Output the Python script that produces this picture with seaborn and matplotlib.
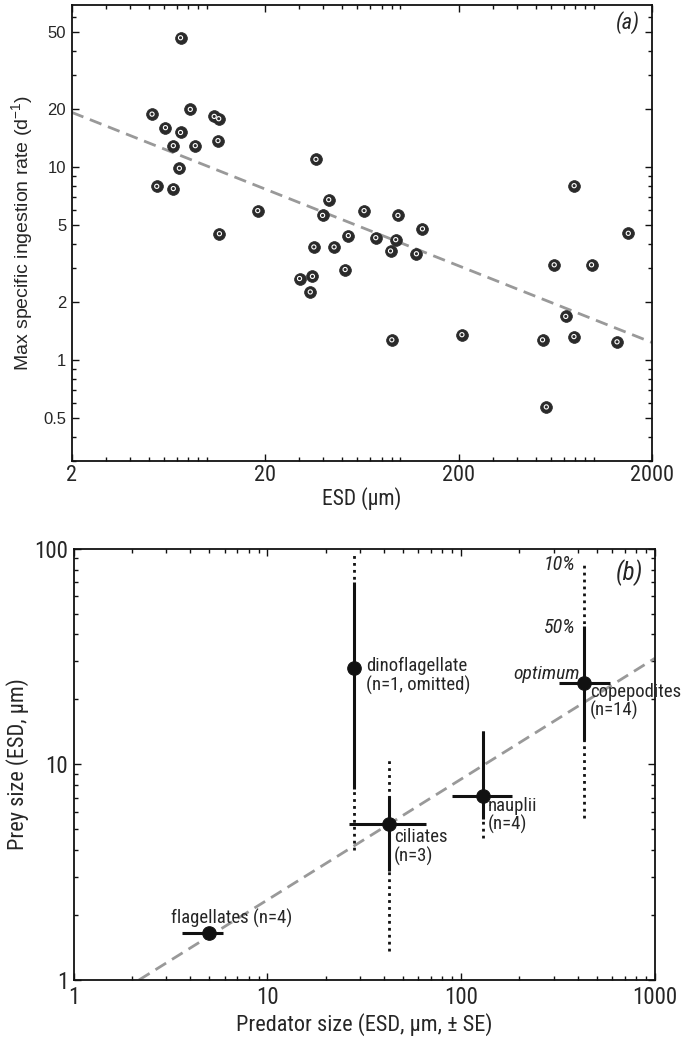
import matplotlib
matplotlib.use("Agg")
import matplotlib.pyplot as plt
import matplotlib.ticker as mticker
import numpy as np
import pandas as pd
import seaborn as sns

# --------------------------------------------------------------------------- #
# (a) max specific ingestion rate vs ESD
# --------------------------------------------------------------------------- #
esd_um = [
    7.3, 5.2, 8.2, 6.1, 7.3, 10.9, 11.5, 6.7, 8.7, 11.4, 7.2, 5.5, 6.7,
    18.3, 11.6, 36.6, 42.6, 39.6, 64.9, 97.1, 130, 53.8, 74.6, 94.6, 88.9,
    121, 35.7, 45.4, 51.8, 30.1, 35.1, 34.2, 90.3, 208, 791, 1507, 624,
    973, 716, 543, 789, 1318, 568,
]
imax_per_day = [
    46.8, 18.8, 19.9, 16.0, 15.1, 18.3, 17.8, 12.9, 12.9, 13.7, 9.85, 7.94, 7.73,
    5.94, 4.51, 10.96, 6.77, 5.61, 5.94, 5.61, 4.78, 4.41, 4.30, 4.20, 3.67,
    3.55, 3.85, 3.85, 2.94, 2.64, 2.71, 2.25, 1.27, 1.35, 8.0, 4.53, 3.11,
    3.11, 1.68, 1.27, 1.32, 1.24, 0.57,
]
fit_a_x = [2, 2000]
fit_a_y = [19.2, 1.23]

# --------------------------------------------------------------------------- #
# (b) prey size vs predator size
# --------------------------------------------------------------------------- #
groups = ["flagellates", "dinoflagellate", "ciliates", "nauplii", "copepodites"]
pred_esd = [5.0, 27.9, 42.2, 129, 433]
pred_lo = [3.6, np.nan, 26.5, 90, 319]
pred_hi = [5.9, np.nan, 66, 184, 584]
prey_opt = [1.66, 28.0, 5.26, 7.16, 23.9]
prey_50_lo = [np.nan, 7.7, 3.2, 5.6, 13.0]
prey_50_hi = [np.nan, 70, 7.1, 14.2, 43.6]
prey_10_lo = [np.nan, 4.0, 1.36, 4.55, 5.63]
prey_10_hi = [np.nan, 94, 10.5, 14.2, 85]
group_labels = [
    "flagellates (n=4)",
    "dinoflagellate\n(n=1, omitted)",
    "ciliates\n(n=3)",
    "nauplii\n(n=4)",
    "copepodites\n(n=14)",
]
fit_b_x = [2.17, 1000]
fit_b_y = [1.0, 31.0]

NARROW = ["Roboto Condensed", "Roboto", "DejaVu Sans"]
PLAIN = ["Liberation Sans", "DejaVu Sans"]
FIT_COLOR = "#999999"

sns.set_style("ticks")
plt.rcParams["font.family"] = NARROW
plt.rcParams["mathtext.fontset"] = "custom"
plt.rcParams["mathtext.rm"] = "Liberation Sans"


def style_axes(ax):
    for sp in ax.spines.values():
        sp.set_linewidth(1.3)
        sp.set_color("#111111")
    ax.tick_params(which="both", direction="in", top=True, right=True,
                   color="#111111", width=1.0)
    ax.tick_params(which="major", length=5, labelsize=16, pad=4)
    ax.tick_params(which="minor", length=2.8)


fig = plt.figure(figsize=(6.9, 10.47), dpi=100)
ax_a = fig.add_axes([0.104, 0.560, 0.841, 0.435])
ax_b = fig.add_axes([0.107, 0.064, 0.842, 0.412])

# ---- panel (a)
df_a = pd.DataFrame({"esd": esd_um, "imax": imax_per_day})
ax_a.plot(fit_a_x, fit_a_y, color=FIT_COLOR, lw=2.0, ls=(0, (4.5, 2.5)), zorder=1)
sns.scatterplot(data=df_a, x="esd", y="imax", ax=ax_a, s=72, color="#2a2a2a",
                edgecolor="#2a2a2a", linewidth=0.5, zorder=3, legend=False)
sns.scatterplot(data=df_a, x="esd", y="imax", ax=ax_a, s=9, facecolor="none",
                edgecolor="white", linewidth=0.8, zorder=4, legend=False)
ax_a.set_xscale("log")
ax_a.set_yscale("log")
ax_a.set_xlim(2, 2000)
ax_a.set_ylim(0.3, 69)
ax_a.xaxis.set_major_locator(mticker.FixedLocator([2, 20, 200, 2000]))
ax_a.xaxis.set_major_formatter(mticker.FixedFormatter(["2", "20", "200", "2000"]))
ax_a.xaxis.set_minor_locator(mticker.LogLocator(base=10, subs=np.arange(1, 10), numticks=20))
ax_a.yaxis.set_major_locator(mticker.FixedLocator([0.5, 1, 2, 5, 10, 20, 50]))
ax_a.yaxis.set_major_formatter(mticker.FixedFormatter(["0.5", "1", "2", "5", "10", "20", "50"]))
ax_a.yaxis.set_minor_locator(mticker.LogLocator(base=10, subs=np.arange(1, 10), numticks=20))
ax_a.xaxis.set_minor_formatter(mticker.NullFormatter())
ax_a.yaxis.set_minor_formatter(mticker.NullFormatter())
style_axes(ax_a)
ax_a.tick_params(axis="x", which="major", pad=3)
for lab in ax_a.get_yticklabels():
    lab.set_fontfamily(PLAIN)
    lab.set_fontsize(12)
ax_a.set_xlabel("ESD (µm)", fontsize=15.5, labelpad=1)
ax_a.set_ylabel("Max specific ingestion rate (d$^{-1}$)", fontsize=14,
                family=PLAIN, labelpad=5)
ax_a.text(0.979, 0.963, "(a)", transform=ax_a.transAxes, ha="right", va="center",
          fontsize=16, style="italic")

# ---- panel (b)
df_b = pd.DataFrame({"group": groups, "pred": pred_esd, "prey": prey_opt})
ax_b.plot(fit_b_x, fit_b_y, color=FIT_COLOR, lw=2.0, ls=(0, (4.5, 2.5)), zorder=1)
ax_b.vlines(pred_esd, prey_10_lo, prey_10_hi, color="#111111", lw=2.0,
            linestyles=(0, (1, 1.5)), zorder=2)
ax_b.vlines(pred_esd, prey_50_lo, prey_50_hi, color="#111111", lw=2.2, zorder=3)
ax_b.hlines(prey_opt, pred_lo, pred_hi, color="#111111", lw=2.2, zorder=3)
sns.scatterplot(data=df_b, x="pred", y="prey", ax=ax_b, s=95, color="#111111",
                edgecolor="#111111", zorder=4, legend=False)
ax_b.set_xscale("log")
ax_b.set_yscale("log")
ax_b.set_xlim(1, 1000)
ax_b.set_ylim(1, 100)
ax_b.xaxis.set_major_locator(mticker.FixedLocator([1, 10, 100, 1000]))
ax_b.xaxis.set_major_formatter(mticker.FixedFormatter(["1", "10", "100", "1000"]))
ax_b.yaxis.set_major_locator(mticker.FixedLocator([1, 10, 100]))
ax_b.yaxis.set_major_formatter(mticker.FixedFormatter(["1", "10", "100"]))
ax_b.xaxis.set_minor_locator(mticker.LogLocator(base=10, subs=np.arange(2, 10), numticks=20))
ax_b.yaxis.set_minor_locator(mticker.LogLocator(base=10, subs=np.arange(2, 10), numticks=20))
ax_b.xaxis.set_minor_formatter(mticker.NullFormatter())
ax_b.yaxis.set_minor_formatter(mticker.NullFormatter())
style_axes(ax_b)
ax_b.tick_params(which="major", labelsize=16.5)
ax_b.set_xlabel("Predator size (ESD, µm, ± SE)", fontsize=16, labelpad=3)
ax_b.set_ylabel("Prey size (ESD, µm)", fontsize=16, labelpad=4)

label_pos = [(6.56, 1.93, "center"), (32.4, 25.7, "left"), (44.9, 4.14, "left"),
             (138, 5.77, "left"), (463, 19.5, "left")]
for (lx, ly, ha), txt in zip(label_pos, group_labels):
    ax_b.text(lx, ly, txt, ha=ha, va="center", fontsize=13.5, linespacing=1.0)

ax_b.text(389, 84.4, "10%", ha="right", va="center", fontsize=14.5, style="italic")
ax_b.text(392, 43.2, "50%", ha="right", va="center", fontsize=14.5, style="italic")
ax_b.text(410, 26.2, "optimum", ha="right", va="center", fontsize=14, style="italic")
ax_b.text(0.979, 0.944, "(b)", transform=ax_b.transAxes, ha="right", va="center",
          fontsize=18, style="italic")

fig.savefig("out.png", dpi=100)
